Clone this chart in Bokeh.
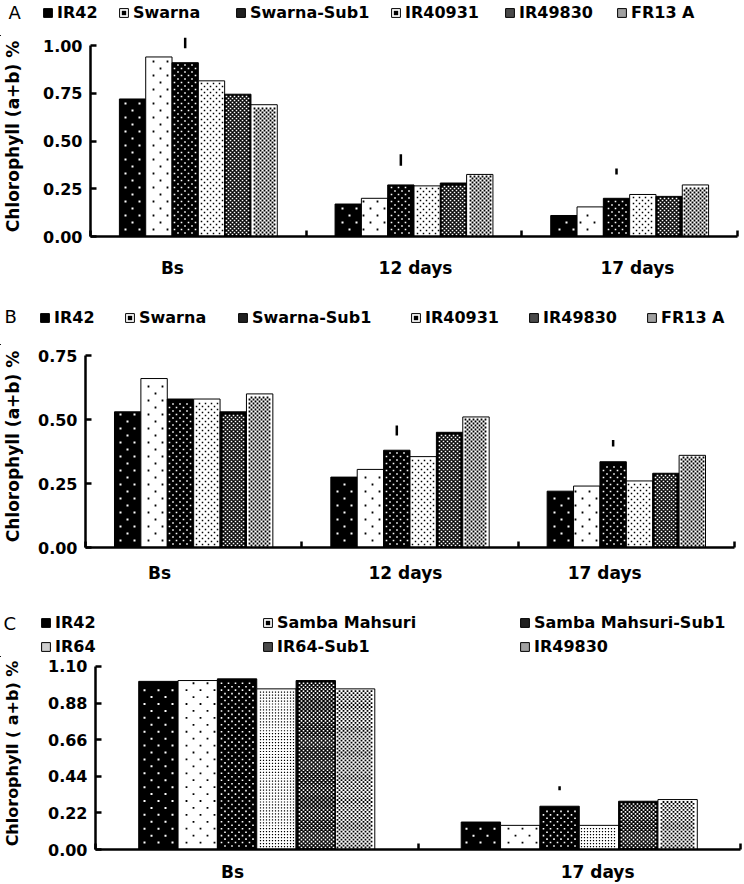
import math
from bokeh.plotting import figure
from bokeh.models import (Range1d, FixedTicker, Legend, LegendItem, Label,
                          ColumnDataSource, NumeralTickFormatter)
from bokeh.embed import file_html
from bokeh.resources import INLINE

# ---------------- data ----------------
# Panel A
a_groups = ["Bs", "12 days", "17 days"]
a_names = ["IR42", "Swarna", "Swarna-Sub1", "IR40931", "IR49830", "FR13 A"]
a_ir42 = [0.72, 0.17, 0.11]
a_swarna = [0.94, 0.20, 0.155]
a_swarna_sub1 = [0.91, 0.27, 0.20]
a_ir40931 = [0.815, 0.265, 0.22]
a_ir49830 = [0.745, 0.28, 0.21]
a_fr13a = [0.69, 0.325, 0.27]
a_lsd_groups = ["Bs", "12 days", "17 days"]
a_lsd_low = [0.985, 0.37, 0.325]
a_lsd_high = [1.04, 0.43, 0.356]
a_yticks = [0.0, 0.25, 0.50, 0.75, 1.00]

# Panel B
b_groups = ["Bs", "12 days", "17 days"]
b_names = ["IR42", "Swarna", "Swarna-Sub1", "IR40931", "IR49830", "FR13 A"]
b_ir42 = [0.53, 0.275, 0.22]
b_swarna = [0.66, 0.305, 0.24]
b_swarna_sub1 = [0.58, 0.38, 0.335]
b_ir40931 = [0.58, 0.355, 0.26]
b_ir49830 = [0.53, 0.45, 0.29]
b_fr13a = [0.60, 0.51, 0.36]
b_lsd_groups = ["12 days", "17 days"]
b_lsd_low = [0.4375, 0.395]
b_lsd_high = [0.477, 0.42]
b_yticks = [0.0, 0.25, 0.50, 0.75]

# Panel C
c_groups = ["Bs", "17 days"]
c_names = ["IR42", "Samba Mahsuri", "Samba Mahsuri-Sub1", "IR64", "IR64-Sub1", "IR49830"]
c_ir42 = [1.01, 0.165]
c_samba = [1.015, 0.145]
c_samba_sub1 = [1.025, 0.26]
c_ir64 = [0.965, 0.145]
c_ir64_sub1 = [1.015, 0.29]
c_ir49830 = [0.965, 0.30]
c_lsd_groups = ["17 days"]
c_lsd_low = [0.356]
c_lsd_high = [0.38]
c_yticks = [0.0, 0.22, 0.44, 0.66, 0.88, 1.10]

# ---------------- styles ----------------
FONT = "DejaVu Sans"
W = 744
BAR_W = 0.122
SUB1_INDEX = 2

# name: (fill colour, dot colour, dot size px, cell px, staggered, legend fill, legend dot)
PATTERNS = {
    "sparse_white": ("black", "white", 2.0, 14, True, "black", None),
    "sparse_black": ("white", "black", 1.8, 14, True, "white", "black"),
    "dense_white": ("black", "white", 1.6, 7, True, "#202020", None),
    "dense_black": ("white", "black", 1.5, 6, True, "white", "black"),
    "dark_check": ("black", "white", 1.6, 4, True, "#4a4a4a", None),
    "light_check": ("white", "black", 1.8, 4, True, "#a0a0a0", None),
    "fine_dots": ("white", "black", 1.2, 3, False, "#cfcfcf", None),
}
AB_PATTERNS = ["sparse_white", "sparse_black", "dense_white", "dense_black", "dark_check", "light_check"]
C_PATTERNS = ["sparse_white", "sparse_black", "dense_white", "fine_dots", "dark_check", "light_check"]


def texture_dots(x_centers, tops, xppu, yppu, cell, dot, stagger):
    """Dot texture positions (data units) filling each bar on a pixel grid."""
    xs, ys = [], []
    m = dot / 2 + 1
    offsets = [(0.0, 0.0)] + ([(cell / 2, cell / 2)] if stagger else [])
    for xc, t in zip(x_centers, tops):
        X0 = (xc - BAR_W / 2) * xppu + m
        X1 = (xc + BAR_W / 2) * xppu - m
        Y0 = m
        Y1 = t * yppu - m
        for ox, oy in offsets:
            for i in range(math.ceil((X0 - ox) / cell), math.floor((X1 - ox) / cell) + 1):
                for j in range(math.ceil((Y0 - oy) / cell), math.floor((Y1 - oy) / cell) + 1):
                    xs.append((i * cell + ox) / xppu)
                    ys.append((j * cell + oy) / yppu)
    return xs, ys


def header(h, letter, letter_x, letter_y, names, patterns, legend_pos):
    p = figure(width=W, height=h, x_range=Range1d(0, W), y_range=Range1d(0, h),
               min_border=0, x_axis_type=None, y_axis_type=None,
               output_backend="svg", toolbar_location=None)
    p.outline_line_color = None
    p.add_layout(Label(x=letter_x, y=h - letter_y, x_units="screen", y_units="screen",
                       text=letter, text_align="left", text_baseline="middle",
                       text_font=FONT, text_font_size="18px", text_color="black"))
    for nm, pat, (lx, ly) in zip(names, patterns, legend_pos):
        spec = PATTERNS[pat]
        # swatch renderers hold one point placed outside the visible range
        rs = [p.vbar(x=[-100], top=[1], width=1, fill_color=spec[5],
                     line_color="black", line_width=1)]
        if spec[6] is not None:
            rs.append(p.scatter(x=[-100], y=[1], marker="square", size=3,
                                fill_color=spec[6], line_color=None))
        lg = Legend(items=[LegendItem(label=nm, renderers=rs)],
                    location=(lx, h - ly - 10),
                    orientation="horizontal", glyph_width=11, glyph_height=11,
                    label_standoff=4, padding=0, margin=0, spacing=0,
                    border_line_color=None, background_fill_alpha=0,
                    label_text_font=FONT, label_text_font_style="bold",
                    label_text_font_size="16px", label_text_color="black",
                    label_height=20)
        p.add_layout(lg)
    return p


def panel(groups, series, patterns, lsd_groups, lsd_low, lsd_high, yticks,
          fig_h, frame_h, left, right, px_per_unit, label_pos, x_standoff,
          title, title_size, title_standoff):
    n = len(groups)
    xppu = (W - left - right) / n
    p = figure(width=W, height=fig_h, output_backend="svg", toolbar_location=None,
               x_range=Range1d(0, n), y_range=Range1d(0, frame_h / px_per_unit),
               min_border_left=left, min_border_right=right, min_border_top=0,
               min_border_bottom=fig_h - frame_h)
    p.outline_line_color = None
    p.xgrid.visible = False
    p.ygrid.visible = False

    for i, (vals, pat) in enumerate(zip(series, patterns)):
        fill, dcol, dsize, cell, stag = PATTERNS[pat][:5]
        xs = [g + 0.5 + (i - 2.5) * BAR_W for g in range(n)]
        src = ColumnDataSource(dict(x=xs, top=vals))
        p.vbar(x="x", top="top", width=BAR_W, bottom=0, source=src,
               fill_color=fill, line_color="black", line_width=1)
        dx, dy = texture_dots(xs, vals, xppu, px_per_unit, cell, dsize, stag)
        p.scatter(dx, dy, marker="square", size=dsize, fill_color=dcol, line_color=None)

    # LSD marks above the Sub1 bars
    lx = [groups.index(g) + 0.5 + (SUB1_INDEX - 2.5) * BAR_W for g in lsd_groups]
    p.segment(x0=lx, x1=lx, y0=lsd_low, y1=lsd_high, line_color="black", line_width=2.5)

    xa = p.xaxis[0]
    xa.ticker = FixedTicker(ticks=label_pos, minor_ticks=list(range(n + 1)))
    xa.major_label_overrides = {t: g for t, g in zip(label_pos, groups)}
    xa.major_tick_in = 0
    xa.major_tick_out = 0
    xa.minor_tick_in = 6
    xa.minor_tick_out = 0
    xa.minor_tick_line_width = 2.5
    xa.axis_line_width = 2.5
    xa.major_label_text_font = FONT
    xa.major_label_text_font_style = "bold"
    xa.major_label_text_font_size = "17px"
    xa.major_label_text_color = "black"
    xa.major_label_standoff = x_standoff

    ya = p.yaxis[0]
    ya.ticker = FixedTicker(ticks=yticks)
    ya.formatter = NumeralTickFormatter(format="0.00")
    ya.bounds = (0, yticks[-1])
    ya.major_tick_in = 6
    ya.major_tick_out = 0
    ya.minor_tick_in = 0
    ya.minor_tick_out = 0
    ya.major_tick_line_width = 2.5
    ya.axis_line_width = 2.5
    ya.major_label_text_font = FONT
    ya.major_label_text_font_style = "bold"
    ya.major_label_text_font_size = "16px"
    ya.major_label_text_color = "black"
    ya.major_label_standoff = 8
    ya.axis_label = title
    ya.axis_label_text_font = FONT
    ya.axis_label_text_font_style = "bold"
    ya.axis_label_text_font_size = title_size
    ya.axis_label_text_color = "black"
    ya.axis_label_standoff = title_standoff
    return p


hA = header(36, "A", 8, 12, a_names, AB_PATTERNS,
            [(42, 12), (118, 12), (235, 12), (390, 12), (504, 12), (616, 12)])
pA = panel(a_groups, [a_ir42, a_swarna, a_swarna_sub1, a_ir40931, a_ir49830, a_fr13a],
           AB_PATTERNS, a_lsd_groups, a_lsd_low, a_lsd_high, a_yticks,
           fig_h=254, frame_h=200, left=90, right=7, px_per_unit=191,
           label_pos=[0.38, 1.507, 2.536], x_standoff=21,
           title="Chlorophyll (a+b) %", title_size="17px", title_standoff=17)

hB = header(55, "B", 4, 26, b_names, AB_PATTERNS,
            [(39, 27), (124, 27), (237, 27), (410, 27), (528, 27), (646, 27)])
pB = panel(b_groups, [b_ir42, b_swarna, b_swarna_sub1, b_ir40931, b_ir49830, b_fr13a],
           AB_PATTERNS, b_lsd_groups, b_lsd_low, b_lsd_high, b_yticks,
           fig_h=251, frame_h=202, left=85, right=10, px_per_unit=256,
           label_pos=[0.342, 1.479, 2.40], x_standoff=15,
           title="Chlorophyll (a+b) %", title_size="17px", title_standoff=12)

hC = header(61, "C", 3, 27, c_names, C_PATTERNS,
            [(40, 26), (262, 26), (519, 26), (40, 50), (262, 50), (519, 50)])
pC = panel(c_groups, [c_ir42, c_samba, c_samba_sub1, c_ir64, c_ir64_sub1, c_ir49830],
           C_PATTERNS, c_lsd_groups, c_lsd_low, c_lsd_high, c_yticks,
           fig_h=227, frame_h=194, left=95, right=4, px_per_unit=168.2,
           label_pos=[0.425, 1.557], x_standoff=12,
           title="Chlorophyll ( a+b) %", title_size="16px", title_standoff=23)

# independent roots, stacked top to bottom (no frame alignment between them)
open("out.html", "w").write(file_html([hA, pA, hB, pB, hC, pC], INLINE))
